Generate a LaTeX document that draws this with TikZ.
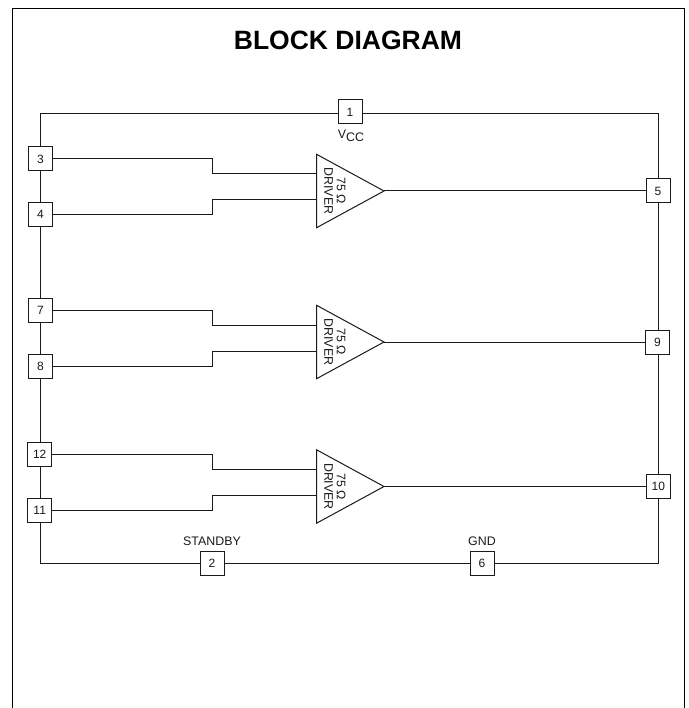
\documentclass[tikz,border=0pt]{standalone}
\usepackage{fontspec}
\setmainfont{Liberation Sans}
\usetikzlibrary{shapes.geometric}
\definecolor{ink}{HTML}{1A1A1A}
\tikzset{
  pin/.style={draw=ink,line width=1pt,fill=white,minimum size=24pt,inner sep=0pt,outer sep=0pt,text=ink,font=\fontsize{12}{14}\selectfont},
  wire/.style={draw=ink,line width=1pt,line join=miter},
  amp/.style={isosceles triangle,isosceles triangle stretches,shape border rotate=0,draw=ink,line width=1pt,
    minimum height=67.5pt,minimum width=73.5pt,inner sep=0pt,outer sep=0pt,anchor=apex},
  amplabel/.style={rotate=-90,align=center,inner sep=0pt,text=ink,font=\fontsize{12.4}{12.5}\selectfont},
  caption/.style={inner sep=0pt,text=ink,font=\fontsize{12.4}{14}\selectfont},
  titletext/.style={inner sep=0pt,text=black,font=\fontsize{26.5}{30}\selectfont\bfseries},
  framing/.style={draw=black,line width=1pt}
}
\begin{document}
\begin{tikzpicture}[x=1pt,y=-1pt]
\useasboundingbox (0,0) rectangle (688,708);
\draw[framing] (12.5,708) -- (12.5,9) -- (684.5,9) -- (684.5,708);
\node[titletext] (title) at (348,40.5) {BLOCK DIAGRAM};

% supply ring
\coordinate (tl) at (40,113.5);
\coordinate (tr) at (658.3,113.5);
\coordinate (bl) at (40,563.5);
\coordinate (br) at (658.3,563.5);
\draw[wire] (tl) -- (tr) -- (br) -- (bl) -- cycle;

% pins
\node[pin] (p1) at (350,112) {1};
\node[pin] (p3) at (40.5,159) {3};
\node[pin] (p4) at (40.5,214.5) {4};
\node[pin] (p7) at (40.5,310) {7};
\node[pin] (p8) at (40.5,366) {8};
\node[pin] (p12) at (39.7,454.5) {12};
\node[pin] (p11) at (39.7,510) {11};
\node[pin] (p2) at (212,563.7) {2};
\node[pin] (p6) at (482,563.7) {6};
\node[pin] (p5) at (658,191) {5};
\node[pin] (p9) at (657.5,342) {9};
\node[pin] (p10) at (658.3,486.5) {10};

% drivers
\node[amp] (d1) at (384,191) {};
\node[amp] (d2) at (384,342) {};
\node[amp] (d3) at (384,486.5) {};
\node[amplabel] (l1) at (335,191) {75 Ω\\DRIVER};
\node[amplabel] (l2) at (335,342) {75 Ω\\DRIVER};
\node[amplabel] (l3) at (335,486.5) {75 Ω\\DRIVER};

% input wires
\coordinate (a1) at (316.5,174);   \coordinate (b1) at (316.5,200);
\coordinate (a2) at (316.5,325.5); \coordinate (b2) at (316.5,351.5);
\coordinate (a3) at (316.5,469.5); \coordinate (b3) at (316.5,495.5);
\coordinate (s) at (212.5,0);
\draw[wire] (p3.east) -- (s |- p3.east) -- (s |- a1) -- (a1);
\draw[wire] (p4.east) -- (s |- p4.east) -- (s |- b1) -- (b1);
\draw[wire] (p7.east) -- (s |- p7.east) -- (s |- a2) -- (a2);
\draw[wire] (p8.east) -- (s |- p8.east) -- (s |- b2) -- (b2);
\draw[wire] (p12.east) -- (s |- p12.east) -- (s |- a3) -- (a3);
\draw[wire] (p11.east) -- (s |- p11.east) -- (s |- b3) -- (b3);

% outputs
\draw[wire] (d1.apex) -- (p5.west);
\draw[wire] (d2.apex) -- (p9.west);
\draw[wire] (d3.apex) -- (p10.west);

% captions
\node[caption] (vcc) at (351,136) {V\raisebox{-3.5pt}{CC}};
\node[caption] (standby) at (212,541.5) {STANDBY};
\node[caption] (gnd) at (482,541.5) {GND};
\end{tikzpicture}
\end{document}
